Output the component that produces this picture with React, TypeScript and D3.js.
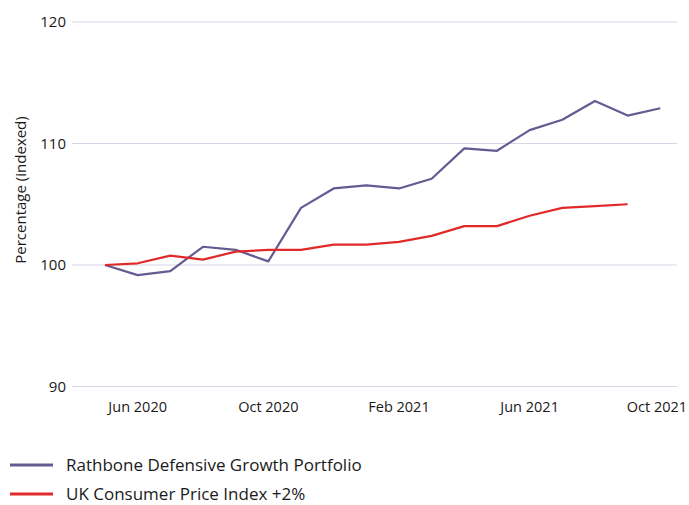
import React from "react";
import * as d3 from "d3";

const months = [
  "May 2020", "Jun 2020", "Jul 2020", "Aug 2020", "Sep 2020", "Oct 2020",
  "Nov 2020", "Dec 2020", "Jan 2021", "Feb 2021", "Mar 2021", "Apr 2021",
  "May 2021", "Jun 2021", "Jul 2021", "Aug 2021", "Sep 2021", "Oct 2021",
];
const rathbone = [100, 99.17, 99.5, 101.5, 101.25, 100.3, 104.7, 106.3, 106.55, 106.3, 107.1, 109.6, 109.4, 111.1, 111.95, 113.5, 112.3, 112.9];
const cpi = [100, 100.14, 100.77, 100.44, 101.1, 101.24, 101.24, 101.68, 101.68, 101.9, 102.4, 103.2, 103.2, 104.05, 104.7, 104.85, 105.0];
const yTicks = [90, 100, 110, 120];
const xTickLabels = ["Jun 2020", "Oct 2020", "Feb 2021", "Jun 2021", "Oct 2021"];
const seriesNames = ["Rathbone Defensive Growth Portfolio", "UK Consumer Price Index +2%"];
const colors = ["#655a92", "#e02a2a"];

const FONT = "'Open Sans', sans-serif";

export default function App() {
  const W = 689, H = 505;
  const x = d3.scaleLinear().domain([0, months.length - 1]).range([105, 660.3]);
  const y = d3.scaleLinear().domain([90, 120]).range([386.5, 22]);
  const line = d3.line<number>().x((_, i) => x(i)).y((d) => y(d));
  const series = [rathbone, cpi];

  return (
    <svg width={W} height={H} style={{ position: "absolute", left: 0, top: 0, fontFamily: FONT }}>
      <rect width={W} height={H} fill="#fff" />
      {yTicks.map((t) => (
        <g key={t}>
          <line x1={72} x2={677} y1={y(t)} y2={y(t)} stroke="#d8d6e6" strokeWidth={1} />
          <text x={66} y={y(t)} dy="0.35em" textAnchor="end" fontSize={15} fill="#1a1a1a">{t}</text>
        </g>
      ))}
      <text transform={`translate(21,${190}) rotate(-90)`} textAnchor="middle" fontSize={15} fill="#1a1a1a" dy="0.35em">
        Percentage (indexed)
      </text>
      {xTickLabels.map((lab) => (
        <text key={lab} x={Math.min(x(months.indexOf(lab)), 657)} y={407} dy="0.35em" textAnchor="middle" fontSize={14.5} fill="#1a1a1a">
          {lab}
        </text>
      ))}
      {series.map((s, i) => (
        <path key={i} d={line(s) || ""} fill="none" stroke={colors[i]} strokeWidth={2.2} strokeLinejoin="round" />
      ))}
      {seriesNames.map((n, i) => (
        <g key={n}>
          <line x1={10} x2={53} y1={465 + i * 29} y2={465 + i * 29} stroke={colors[i]} strokeWidth={3} />
          <text x={66} y={465 + i * 29} dy="0.35em" fontSize={17} fill="#1a1a1a">{n}</text>
        </g>
      ))}
    </svg>
  );
}
